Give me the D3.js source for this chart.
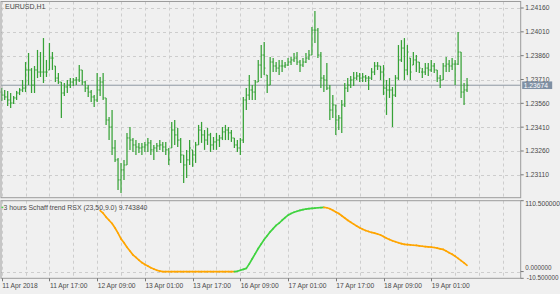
<!DOCTYPE html>
<html><head><meta charset="utf-8">
<script src="https://cdn.jsdelivr.net/npm/d3@7"></script>
<style>html,body{margin:0;padding:0;background:#f0f0f0;overflow:hidden}</style>
</head><body><svg id="c" width="560" height="294"></svg>
<script>
const symbolTitle = "EURUSD,H1";
const indicatorTitle = "3 hours Schaff trend RSX (23,50,9.0) 9.743840";

const high = [1.23656,1.23644,1.23638,1.23625,1.23606,1.23638,1.23656,1.23707,1.23820,1.23877,
1.23782,1.23795,1.23896,1.23883,1.23971,1.23833,1.23940,1.23883,1.23795,1.23751,
1.23694,1.23688,1.23707,1.23719,1.23719,1.23726,1.23801,1.23770,1.23701,1.23675,
1.23644,1.23612,1.23751,1.23726,1.23751,1.23594,1.23474,1.23518,1.23329,1.23216,
1.23185,1.23204,1.23374,1.23411,1.23342,1.23329,1.23311,1.23311,1.23317,1.23342,
1.23329,1.23298,1.23311,1.23329,1.23317,1.23317,1.23279,1.23443,1.23455,1.23405,
1.23342,1.23235,1.23267,1.23329,1.23267,1.23317,1.23424,1.23443,1.23392,1.23405,
1.23374,1.23348,1.23374,1.23361,1.23411,1.23424,1.23411,1.23392,1.23342,1.23329,
1.23342,1.23600,1.23656,1.23738,1.23675,1.23707,1.23833,1.23927,1.23946,1.23738,
1.23851,1.23845,1.23820,1.23833,1.23833,1.23820,1.23845,1.23851,1.23877,1.23883,
1.23833,1.23845,1.23877,1.23896,1.24040,1.24141,1.24034,1.23883,1.23738,1.23814,
1.23675,1.23612,1.23550,1.23487,1.23581,1.23688,1.23719,1.23732,1.23757,1.23757,
1.23751,1.23751,1.23738,1.23732,1.23782,1.23820,1.23820,1.23795,1.23801,1.23707,
1.23719,1.23663,1.23738,1.23927,1.23958,1.23971,1.23927,1.23845,1.23883,1.23864,
1.23820,1.23782,1.23814,1.23814,1.23833,1.23814,1.23770,1.23738,1.23814,1.23851,
1.23833,1.23845,1.23833,1.24009,1.23883,1.23688,1.23719];

const low = [1.23575,1.23581,1.23543,1.23531,1.23556,1.23581,1.23612,1.23631,1.23631,1.23675,
1.23625,1.23625,1.23719,1.23726,1.23688,1.23726,1.23770,1.23770,1.23694,1.23682,
1.23468,1.23606,1.23625,1.23656,1.23669,1.23675,1.23694,1.23675,1.23631,1.23600,
1.23568,1.23537,1.23568,1.23606,1.23581,1.23424,1.23329,1.23235,1.23191,1.23015,
1.22996,1.23078,1.23172,1.23267,1.23254,1.23235,1.23248,1.23235,1.23254,1.23254,
1.23235,1.23204,1.23254,1.23267,1.23254,1.23235,1.23172,1.23279,1.23298,1.23285,
1.23185,1.23059,1.23090,1.23172,1.23160,1.23185,1.23298,1.23311,1.23267,1.23298,
1.23254,1.23267,1.23267,1.23285,1.23329,1.23329,1.23329,1.23317,1.23279,1.23254,
1.23235,1.23311,1.23518,1.23581,1.23581,1.23581,1.23694,1.23719,1.23738,1.23625,
1.23675,1.23757,1.23757,1.23738,1.23757,1.23782,1.23795,1.23801,1.23820,1.23801,
1.23757,1.23789,1.23814,1.23833,1.23864,1.23940,1.23845,1.23656,1.23631,1.23644,
1.23455,1.23468,1.23361,1.23392,1.23374,1.23537,1.23631,1.23656,1.23669,1.23707,
1.23694,1.23694,1.23694,1.23644,1.23707,1.23738,1.23770,1.23707,1.23612,1.23487,
1.23594,1.23411,1.23600,1.23707,1.23820,1.23707,1.23738,1.23707,1.23801,1.23757,
1.23751,1.23719,1.23738,1.23732,1.23757,1.23751,1.23694,1.23656,1.23707,1.23757,
1.23757,1.23770,1.23675,1.23801,1.23594,1.23550,1.23631];

const open = [1.23631,1.23612,1.23600,1.23581,1.23562,1.23594,1.23625,1.23644,1.23656,1.23770,
1.23770,1.23675,1.23770,1.23757,1.23757,1.23757,1.23770,1.23845,1.23795,1.23719,
1.23694,1.23625,1.23663,1.23675,1.23694,1.23707,1.23707,1.23770,1.23694,1.23656,
1.23631,1.23600,1.23581,1.23644,1.23694,1.23594,1.23455,1.23411,1.23279,1.23204,
1.23078,1.23141,1.23172,1.23342,1.23329,1.23298,1.23285,1.23279,1.23285,1.23298,
1.23311,1.23267,1.23279,1.23292,1.23298,1.23285,1.23267,1.23279,1.23392,1.23361,
1.23329,1.23235,1.23172,1.23204,1.23267,1.23235,1.23298,1.23392,1.23361,1.23329,
1.23361,1.23298,1.23317,1.23329,1.23342,1.23380,1.23392,1.23374,1.23342,1.23298,
1.23279,1.23329,1.23581,1.23612,1.23644,1.23631,1.23694,1.23801,1.23864,1.23738,
1.23675,1.23820,1.23795,1.23782,1.23795,1.23795,1.23801,1.23820,1.23833,1.23845,
1.23820,1.23801,1.23820,1.23845,1.23864,1.24021,1.24021,1.23864,1.23719,1.23707,
1.23656,1.23518,1.23550,1.23455,1.23468,1.23550,1.23656,1.23675,1.23707,1.23719,
1.23732,1.23719,1.23726,1.23719,1.23719,1.23757,1.23795,1.23795,1.23757,1.23656,
1.23644,1.23644,1.23612,1.23719,1.23833,1.23908,1.23770,1.23845,1.23801,1.23833,
1.23820,1.23757,1.23757,1.23782,1.23770,1.23795,1.23770,1.23719,1.23707,1.23795,
1.23807,1.23795,1.23807,1.23807,1.23883,1.23631,1.23644];

const close = [1.23612,1.23600,1.23581,1.23562,1.23594,1.23625,1.23644,1.23656,1.23770,1.23770,
1.23675,1.23770,1.23757,1.23757,1.23757,1.23757,1.23845,1.23845,1.23719,1.23694,
1.23625,1.23663,1.23675,1.23694,1.23707,1.23707,1.23770,1.23694,1.23656,1.23631,
1.23600,1.23581,1.23644,1.23694,1.23594,1.23455,1.23411,1.23279,1.23204,1.23078,
1.23141,1.23172,1.23342,1.23329,1.23298,1.23285,1.23279,1.23285,1.23298,1.23311,
1.23267,1.23279,1.23292,1.23298,1.23285,1.23267,1.23204,1.23392,1.23361,1.23329,
1.23235,1.23172,1.23204,1.23279,1.23235,1.23298,1.23392,1.23361,1.23329,1.23361,
1.23298,1.23317,1.23329,1.23342,1.23380,1.23392,1.23374,1.23342,1.23298,1.23279,
1.23329,1.23581,1.23612,1.23644,1.23631,1.23694,1.23801,1.23864,1.23782,1.23675,
1.23820,1.23795,1.23782,1.23795,1.23795,1.23801,1.23820,1.23833,1.23845,1.23820,
1.23801,1.23820,1.23845,1.23864,1.24021,1.24021,1.23864,1.23719,1.23707,1.23656,
1.23518,1.23550,1.23455,1.23468,1.23550,1.23656,1.23675,1.23707,1.23719,1.23732,
1.23719,1.23726,1.23719,1.23719,1.23757,1.23795,1.23795,1.23757,1.23656,1.23644,
1.23644,1.23612,1.23719,1.23833,1.23908,1.23770,1.23883,1.23757,1.23833,1.23820,
1.23782,1.23757,1.23782,1.23770,1.23795,1.23770,1.23719,1.23707,1.23795,1.23807,
1.23795,1.23807,1.23807,1.23883,1.23631,1.23644,1.23674];

const stcFirstBar = 33;
const stc = [95,91,85,80,75,68,60,51,45,38,32,26,22,18,14,11,8.5,6,4,2,0.8,
0,0,0,0,0,0,0,0,0,0,0,0,0,0,0,0,0,0,0,0,0,0,0,0,0,
0.5,2,3.5,5,12,20,28,36,43,50,56,62,67,72,75.5,80,84,88,90.5,92.5,94,95.5,96.5,97.5,98,98.5,99,99.5,99.8,100,99.5,
98,95.5,93,90.5,87,83.5,80,77,74,71,68.5,66,64,62.5,61,60,58.5,57,54.5,52,50,48,46.5,45,43.5,42.5,42,41.5,41,40.8,40.2,39.5,39,38.5,38,37.5,36.5,35.5,34.5,32,29.5,27,24,20.5,17,13.5,9.74384];

const priceTicks = [1.23110,1.23260,1.23410,1.23560,1.23710,1.23860,1.24010,1.24160];
const lastPrice = 1.23674;
const timeTickBars = [0,16,32,48,64,80,96,112,128,144];
const timeTickLabels = ["11 Apr 2018","11 Apr 17:00","12 Apr 09:00","13 Apr 01:00","13 Apr 17:00","16 Apr 09:00","17 Apr 01:00","17 Apr 17:00","18 Apr 09:00","19 Apr 01:00"];
const stcTicks = [110.5, 0, -10.5];
const stcTickLabels = ["110.500000","0.000000","-10.500000"];

// ---- layout ----
const L = 1, R = 520.7;
const mainTop = 1.5, mainBot = 197.7;
const subTop = 200.7, subBot = 278.3;
const FONT = "'Liberation Sans', Arial, sans-serif";
const TXT = "#4a4a4a";
const GRID = "#cdcdcd";
const BORDER = "#9c9c9c";
const BAR = "#37a237";

const svg = d3.select("#c");
svg.append("rect").attr("width",560).attr("height",294).attr("fill","#f0f0f0");

const x = d3.scaleLinear().domain([0,156]).range([1.7,467.05]);
const y = d3.scaleLinear().domain([1.22966,1.24201]).range([mainBot, mainTop]);
const ys = d3.scaleLinear().domain([-10.5,110.5]).range([subBot, subTop]);

const vgrid = d3.range(0, 176, 8).filter(i => x(i) < R - 1);

// main panel grid
const gMain = svg.append("g");
gMain.selectAll(".vg").data(vgrid).join("line")
  .attr("x1", d => Math.round(x(d)) + 0.5).attr("x2", d => Math.round(x(d)) + 0.5)
  .attr("y1", mainTop).attr("y2", mainBot)
  .attr("stroke", GRID).attr("stroke-dasharray","3,3");
gMain.selectAll(".hg").data(priceTicks).join("line")
  .attr("x1", L).attr("x2", R)
  .attr("y1", d => Math.round(y(d)) + 0.5).attr("y2", d => Math.round(y(d)) + 0.5)
  .attr("stroke", GRID).attr("stroke-dasharray","3,3");

// last price line
gMain.append("line").attr("x1", L).attr("x2", R)
  .attr("y1", y(lastPrice)).attr("y2", y(lastPrice))
  .attr("stroke","#8e98a3").attr("stroke-width",1);

// OHLC bars
const bars = gMain.selectAll(".bar").data(d3.range(high.length)).join("g");
bars.append("line")
  .attr("x1", i => x(i)).attr("x2", i => x(i))
  .attr("y1", i => y(high[i])).attr("y2", i => y(low[i]))
  .attr("stroke", BAR).attr("stroke-width", 1.25);
bars.append("line")
  .attr("x1", i => x(i) - 1.3).attr("x2", i => x(i))
  .attr("y1", i => y(open[i])).attr("y2", i => y(open[i]))
  .attr("stroke", BAR).attr("stroke-width", 0.9);
bars.append("line")
  .attr("x1", i => x(i)).attr("x2", i => x(i) + 1.3)
  .attr("y1", i => y(close[i])).attr("y2", i => y(close[i]))
  .attr("stroke", BAR).attr("stroke-width", 0.9);

// main border
svg.append("rect").attr("x", L).attr("y", mainTop).attr("width", R - L).attr("height", mainBot - mainTop)
  .attr("fill","none").attr("stroke", BORDER).attr("stroke-width",1);

// price axis
const fmt = d3.format(".5f");
const pAxis = svg.append("g");
pAxis.selectAll("line").data(priceTicks).join("line")
  .attr("x1", R).attr("x2", R + 3)
  .attr("y1", d => y(d)).attr("y2", d => y(d)).attr("stroke", "#777");
pAxis.selectAll("text").data(priceTicks).join("text")
  .attr("x", R + 4.5).attr("y", d => y(d)).attr("dy","0.35em")
  .attr("font-family", FONT).attr("font-size", 6.7).attr("fill", TXT)
  .text(d => fmt(d));

// last price label
svg.append("rect").attr("x", R + 1.5).attr("y", y(lastPrice) - 3.8).attr("width", 30).attr("height", 7.6)
  .attr("fill","#7f90a4");
svg.append("text").attr("x", R + 3).attr("y", y(lastPrice)).attr("dy","0.35em")
  .attr("font-family", FONT).attr("font-size", 6.7).attr("fill","#ffffff")
  .text(fmt(lastPrice));

// title
svg.append("text").attr("x", 5).attr("y", 7).attr("dy","0.35em")
  .attr("font-family", FONT).attr("font-size", 7).attr("fill", TXT).text(symbolTitle);

// ---- sub panel ----
const gSub = svg.append("g");
gSub.selectAll(".vg").data(vgrid).join("line")
  .attr("x1", d => Math.round(x(d)) + 0.5).attr("x2", d => Math.round(x(d)) + 0.5)
  .attr("y1", subTop).attr("y2", subBot)
  .attr("stroke", GRID).attr("stroke-dasharray","3,3");
gSub.append("line").attr("x1", L).attr("x2", R)
  .attr("y1", Math.round(ys(0)) + 0.5).attr("y2", Math.round(ys(0)) + 0.5)
  .attr("stroke", GRID).attr("stroke-dasharray","3,3");

const stcPts = stc.map((v, k) => ({i: stcFirstBar + k, v}));
const segs = d3.pairs(stcPts);
gSub.selectAll(".seg").data(segs).join("line")
  .attr("x1", d => x(d[0].i)).attr("y1", d => ys(d[0].v))
  .attr("x2", d => x(d[1].i)).attr("y2", d => ys(d[1].v))
  .attr("stroke", d => d[1].v > d[0].v ? "#3fd33f" : "#ffa500")
  .attr("stroke-width", 1.7).attr("stroke-linecap","round");

svg.append("rect").attr("x", L).attr("y", subTop).attr("width", R - L).attr("height", subBot - subTop)
  .attr("fill","none").attr("stroke", BORDER).attr("stroke-width",1);

// indicator title
svg.append("line").attr("x1", 1.5).attr("x2", 3.3).attr("y1", 207.3).attr("y2", 207.3)
  .attr("stroke","#3fd33f").attr("stroke-width",1.2);
svg.append("text").attr("x", 3.5).attr("y", 207.3).attr("dy","0.35em")
  .attr("font-family", FONT).attr("font-size", 6.9).attr("fill", TXT).text(indicatorTitle);

// sub axis
const sAxis = svg.append("g");
sAxis.selectAll("line").data(stcTicks).join("line")
  .attr("x1", R).attr("x2", R + 3)
  .attr("y1", d => ys(d)).attr("y2", d => ys(d)).attr("stroke", "#777");
sAxis.selectAll("text").data(stcTicks).join("text")
  .attr("x", (d, k) => R + 4.5 + (k === 2 ? 1.5 : 0))
  .attr("y", (d, k) => ys(d) + (k === 0 ? 3.3 : (k === 1 ? -3.6 : -1.0)))
  .attr("dy","0.35em")
  .attr("font-family", FONT).attr("font-size", (d, k) => k === 0 ? 6.7 : 6.3).attr("fill", TXT)
  .text((d, k) => stcTickLabels[k]);

// time axis
const tAxis = svg.append("g");
tAxis.selectAll("line").data(timeTickBars).join("line")
  .attr("x1", d => Math.round(x(d)) + 0.5).attr("x2", d => Math.round(x(d)) + 0.5)
  .attr("y1", subBot).attr("y2", subBot + 3).attr("stroke", "#777");
tAxis.selectAll("text").data(timeTickBars).join("text")
  .attr("x", d => x(d) + 0.5).attr("y", 285.3).attr("dy","0.35em")
  .attr("font-family", FONT).attr("font-size", 6.7).attr("fill", TXT)
  .text((d, k) => timeTickLabels[k]);
</script>
</body></html>
